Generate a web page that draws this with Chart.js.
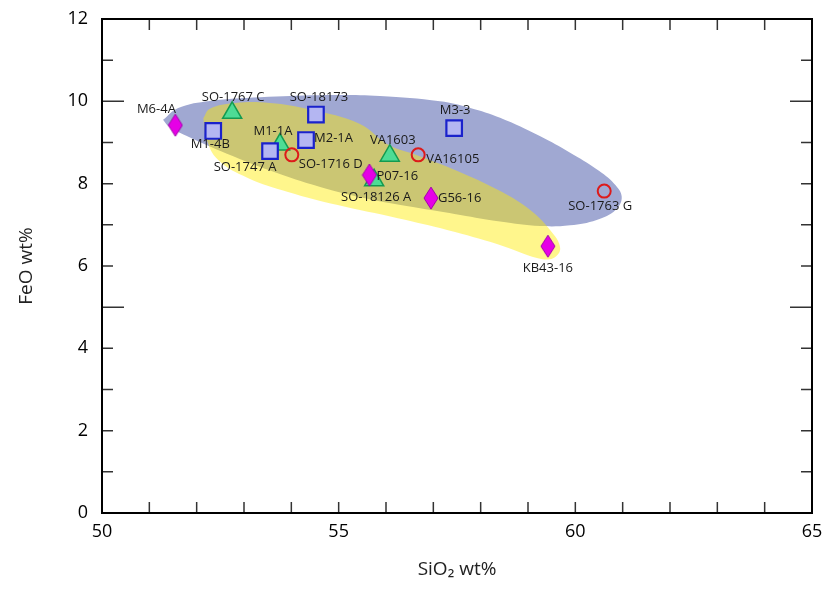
<!DOCTYPE html>
<html>
<head>
<meta charset="utf-8">
<script src="https://cdn.jsdelivr.net/npm/chart.js@4/dist/chart.umd.min.js"></script>
<style>
  html, body { margin: 0; padding: 0; background: #fff; }
  #wrap { width: 826px; height: 590px; }
</style>
</head>
<body>
<div id="wrap"><canvas id="c" width="826" height="590"></canvas></div>
<script>
// ---- data ----
const diamondNames = ['M6-4A', 'P07-16', 'G56-16', 'KB43-16'];
const diamondSiO2  = [51.55, 55.65, 56.95, 59.42];
const diamondFeO   = [9.42, 8.21, 7.65, 6.48];

const squareNames = ['M1-4B', 'SO-18173', 'M2-1A', 'SO-1747 A', 'M3-3'];
const squareSiO2  = [52.35, 54.52, 54.31, 53.55, 57.44];
const squareFeO   = [9.28, 9.68, 9.06, 8.79, 9.35];

const triangleNames = ['SO-1767 C', 'M1-1A', 'VA1603', 'SO-18126 A'];
const triangleSiO2  = [52.75, 53.76, 56.08, 55.75];
const triangleFeO   = [9.72, 8.95, 8.68, 8.08];

const circleNames = ['SO-1716 D', 'VA16105', 'SO-1763 G'];
const circleSiO2  = [54.01, 56.68, 60.61];
const circleFeO   = [8.70, 8.70, 7.82];

// field outlines (data units)
const blueFieldSiO2 = [51.29, 51.61, 52.28, 53.34, 54.61, 55.87, 57.14, 57.78, 58.41, 59.26, 59.89, 60.45, 60.82, 60.98, 60.85, 60.45, 59.89, 59.26, 58.41, 57.57, 56.72, 55.66, 54.61, 53.55, 52.49, 51.86, 51.40, 51.29];
const blueFieldFeO  = [9.55, 9.84, 10.01, 10.10, 10.15, 10.13, 10.00, 9.84, 9.60, 9.15, 8.75, 8.35, 8.00, 7.68, 7.36, 7.12, 6.99, 6.97, 7.08, 7.24, 7.40, 7.62, 7.92, 8.32, 8.80, 9.12, 9.40, 9.55];

const yellowFieldSiO2 = [52.14, 52.28, 52.81, 53.55, 54.40, 55.45, 56.04, 56.63, 57.52, 58.36, 59.00, 59.47, 59.68, 59.53, 59.21, 58.36, 57.31, 56.25, 54.98, 53.93, 53.08, 52.45, 52.20, 52.14];
const yellowFieldFeO  = [9.59, 9.82, 9.96, 9.96, 9.80, 9.45, 8.95, 8.70, 8.30, 7.85, 7.40, 6.87, 6.44, 6.19, 6.19, 6.53, 6.87, 7.16, 7.48, 7.80, 8.14, 8.58, 9.11, 9.59];

// ticks
const xTickLabels = [50, 55, 60, 65];
const yTickLabels = [0, 2, 4, 6, 8, 10, 12];

const toPts = (xs, ys) => xs.map((x, i) => ({ x, y: ys[i] }));

// label placement (layout only)
const labelLayout = {
  'M6-4A':      { dx: -19, dy: -16, align: 'center' },
  'SO-1767 C':  { dx: 1,   dy: -16, align: 'center' },
  'SO-18173':   { dx: 3,   dy: -17, align: 'center' },
  'M1-4B':      { dx: -3,  dy: 13,  align: 'center' },
  'M1-1A':      { dx: -7,  dy: -13, align: 'center' },
  'M2-1A':      { dx: 8,   dy: -2,  align: 'left' },
  'SO-1747 A':  { dx: -25, dy: 16,  align: 'center' },
  'SO-1716 D':  { dx: 7,   dy: 9,   align: 'left' },
  'VA1603':     { dx: 3,   dy: -15, align: 'center' },
  'VA16105':    { dx: 8,   dy: 4,   align: 'left' },
  'P07-16':     { dx: 7,   dy: 1,   align: 'left' },
  'SO-18126 A': { dx: 2,   dy: 17,  align: 'center' },
  'G56-16':     { dx: 7,   dy: 0,   align: 'left' },
  'M3-3':       { dx: 1,   dy: -18, align: 'center' },
  'SO-1763 G':  { dx: -4,  dy: 15,  align: 'center' },
  'KB43-16':    { dx: 0,   dy: 22,  align: 'center' }
};

// diamond marker (taller than wide)
function makeDiamond() {
  const w = 16, h = 24;
  const cv = document.createElement('canvas');
  cv.width = w; cv.height = h;
  const g = cv.getContext('2d');
  g.beginPath();
  g.moveTo(w / 2, 1); g.lineTo(w - 1, h / 2); g.lineTo(w / 2, h - 1); g.lineTo(1, h / 2); g.closePath();
  g.fillStyle = '#e600e6'; g.fill();
  g.lineWidth = 1; g.strokeStyle = '#a000a8'; g.stroke();
  return cv;
}

const FONT = '"Open Sans", "DejaVu Sans", sans-serif';

const framePlugin = {
  id: 'frame',
  afterDraw(chart) {
    const { ctx, chartArea: a, scales: { x, y } } = chart;
    ctx.save();
    ctx.strokeStyle = '#333';
    ctx.lineWidth = 1.5;
    ctx.beginPath();
    x.ticks.forEach(t => {
      const px = x.getPixelForValue(t.value);
      ctx.moveTo(px, a.bottom); ctx.lineTo(px, a.bottom - 11);
      ctx.moveTo(px, a.top); ctx.lineTo(px, a.top + 11);
    });
    y.ticks.forEach(t => {
      const py = y.getPixelForValue(t.value);
      const len = (t.value % 5 === 0) ? 22 : 11;
      ctx.moveTo(a.left, py); ctx.lineTo(a.left + len, py);
      ctx.moveTo(a.right, py); ctx.lineTo(a.right - len, py);
    });
    ctx.stroke();
    ctx.strokeStyle = '#000';
    ctx.lineWidth = 2;
    ctx.strokeRect(a.left, a.top, a.right - a.left, a.bottom - a.top);
    ctx.restore();
  }
};

const labelPlugin = {
  id: 'pointLabels',
  afterDatasetsDraw(chart) {
    const ctx = chart.ctx;
    ctx.save();
    ctx.font = '13px ' + FONT;
    ctx.fillStyle = '#1a1a1a';
    ctx.textBaseline = 'middle';
    chart.data.datasets.forEach((ds, i) => {
      if (!ds.names) return;
      const meta = chart.getDatasetMeta(i);
      meta.data.forEach((el, j) => {
        const name = ds.names[j];
        const L = labelLayout[name] || { dx: 0, dy: -14, align: 'center' };
        ctx.textAlign = L.align;
        ctx.fillText(name, el.x + L.dx, el.y + L.dy);
      });
    });
    ctx.restore();
  }
};

new Chart(document.getElementById('c'), {
  type: 'scatter',
  data: {
    datasets: [
      {
        type: 'line', label: 'field B',
        data: toPts(blueFieldSiO2, blueFieldFeO),
        backgroundColor: 'rgb(160,168,210)',
        borderWidth: 0, pointRadius: 0, fill: 'shape', tension: 0.4, order: 10
      },
      {
        type: 'line', label: 'field Y',
        data: toPts(yellowFieldSiO2, yellowFieldFeO),
        backgroundColor: 'rgba(255,235,0,0.45)',
        borderWidth: 0, pointRadius: 0, fill: 'shape', tension: 0.4, order: 9
      },
      {
        label: 'triangles', names: triangleNames,
        data: toPts(triangleSiO2, triangleFeO),
        pointStyle: 'triangle', pointRadius: 11,
        backgroundColor: '#4ddc95', borderColor: '#149a50', borderWidth: 1.5, order: 4
      },
      {
        label: 'squares', names: squareNames,
        data: toPts(squareSiO2, squareFeO),
        pointStyle: 'rect', pointRadius: 11,
        backgroundColor: '#b4b6f2', borderColor: '#1a22cc', borderWidth: 2.2, order: 3
      },
      {
        label: 'diamonds', names: diamondNames,
        data: toPts(diamondSiO2, diamondFeO),
        pointStyle: makeDiamond(), pointRadius: 10, order: 2
      },
      {
        label: 'circles', names: circleNames,
        data: toPts(circleSiO2, circleFeO),
        pointStyle: 'circle', pointRadius: 6.5,
        backgroundColor: 'rgba(0,0,0,0)', borderColor: '#dd1a1a', borderWidth: 2, order: 1
      }
    ]
  },
  options: {
    responsive: false,
    animation: false,
    layout: { padding: { top: 19, right: 14, left: 0, bottom: 0 } },
    plugins: { legend: { display: false }, tooltip: { enabled: false } },
    scales: {
      x: {
        type: 'linear', min: 50, max: 65,
        afterFit: s => { s.height = 77; s.paddingLeft = 0; s.paddingRight = 0; },
        grid: { display: false, drawTicks: false },
        border: { display: false },
        ticks: {
          stepSize: 1, autoSkip: false, maxRotation: 0, padding: 8,
          color: '#000', font: { family: FONT, size: 18 },
          callback: v => xTickLabels.includes(v) ? String(v) : ''
        },
        title: {
          display: true, text: 'SiO₂ wt%', color: '#222',
          font: { family: FONT, size: 19 }, padding: { top: 0, bottom: 9 }
        }
      },
      y: {
        type: 'linear', min: 0, max: 12,
        afterFit: s => { s.width = 102; s.paddingTop = 0; s.paddingBottom = 0; },
        grid: { display: false, drawTicks: false },
        border: { display: false },
        ticks: {
          stepSize: 1, autoSkip: false, padding: 14,
          color: '#000', font: { family: FONT, size: 18 },
          callback: v => yTickLabels.includes(v) ? String(v) : ''
        },
        title: {
          display: true, text: 'FeO wt%', color: '#222',
          font: { family: FONT, size: 19 }, padding: { top: 15, bottom: 0 }
        }
      }
    }
  },
  plugins: [framePlugin, labelPlugin]
});
</script>
</body>
</html>
